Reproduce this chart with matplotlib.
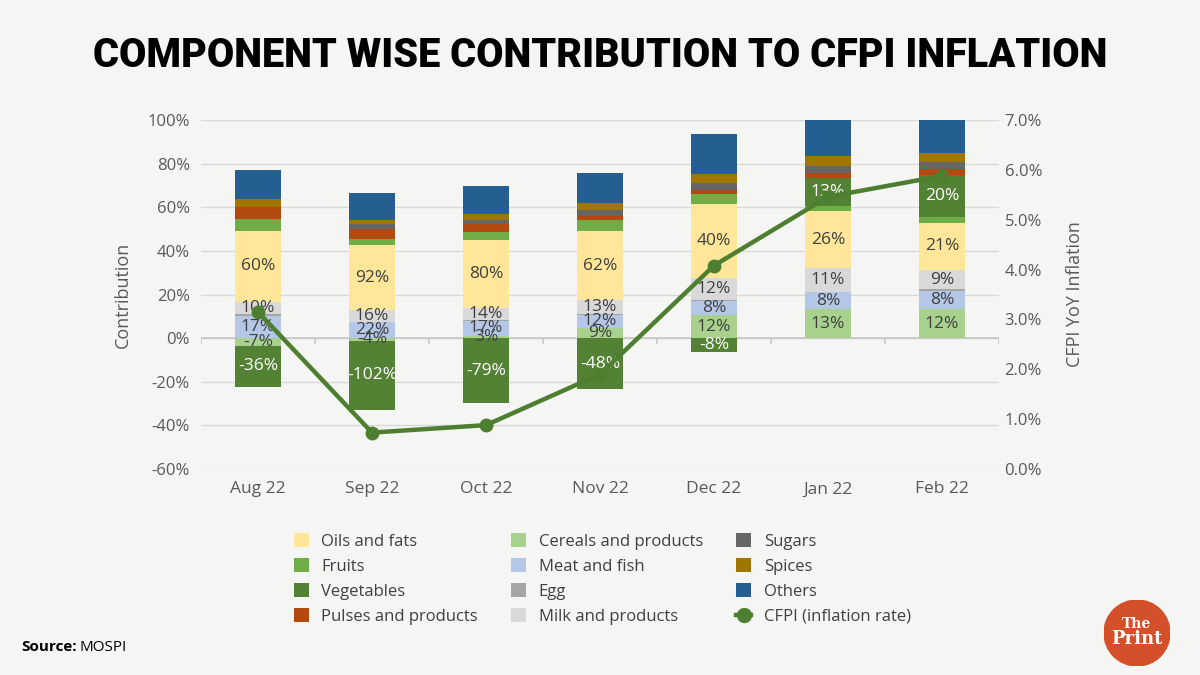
import numpy as np
import matplotlib
matplotlib.use('Agg')
import matplotlib.pyplot as plt
from matplotlib.patches import Patch, Circle
from matplotlib.lines import Line2D

plt.rcParams['font.family'] = ['Open Sans', 'DejaVu Sans']

months = ['Aug 22', 'Sep 22', 'Oct 22', 'Nov 22', 'Dec 22', 'Jan 22', 'Feb 22']

# segment heights as drawn (share of total, %)
cereals = [-3.5, -1.2, 1.2, 4.7, 10.6, 13.2, 13.2]
meat = [10.3, 7.2, 6.8, 5.9, 6.5, 7.8, 8.6]
egg = [0.6, 0.3, 0.3, 0.3, 0.3, 0.2, 0.5]
milk = [5.8, 5.3, 5.3, 6.5, 10.0, 10.8, 8.9]
oils = [32.4, 29.7, 31.4, 31.7, 34.1, 26.4, 21.7]
fruits = [5.3, 2.8, 3.8, 5.0, 4.4, 2.2, 2.5]
vegetables = [-18.8, -31.8, -29.7, -23.5, -6.3, 12.7, 19.4]
pulses = [5.6, 4.7, 3.4, 2.0, 2.0, 2.5, 2.6]
sugars = [0.0, 2.2, 1.9, 2.6, 3.1, 3.1, 3.2]
spices = [3.6, 1.9, 2.8, 3.1, 4.1, 4.6, 4.4]
others = [13.5, 12.3, 13.0, 14.0, 18.3, 16.5, 15.0]

# data labels printed on the bars
cereals_labels = ['-7%', '-4%', '3%', '9%', '12%', '13%', '12%']
meat_labels = ['17%', '22%', '17%', '12%', '8%', '8%', '8%']
milk_labels = ['10%', '16%', '14%', '13%', '12%', '11%', '9%']
oils_labels = ['60%', '92%', '80%', '62%', '40%', '26%', '21%']
veg_labels = ['-36%', '-102%', '-79%', '-48%', '-8%', '13%', '20%']

# CFPI YoY inflation (%)
cfpi = [3.15, 0.73, 0.88, 1.90, 4.08, 5.46, 5.88]

left_ticks = [100, 80, 60, 40, 20, 0, -20, -40, -60]
right_ticks = [0, 1, 2, 3, 4, 5, 6, 7]

BG = '#f5f5f3'
TICK_COLOR = '#595959'
LINE_GREEN = '#4e7f31'

# stacking order bottom -> top, legend names, colours
stack = [
    ('Cereals and products', cereals, '#a9d18e', cereals_labels, '#404040'),
    ('Meat and fish', meat, '#b4c7e7', meat_labels, '#404040'),
    ('Egg', egg, '#a5a5a5', None, None),
    ('Milk and products', milk, '#d9d9d9', milk_labels, '#404040'),
    ('Oils and fats', oils, '#ffe699', oils_labels, '#404040'),
    ('Fruits', fruits, '#70ad47', None, None),
    ('Vegetables', vegetables, '#548235', veg_labels, 'white'),
    ('Pulses and products', pulses, '#b4490f', None, None),
    ('Sugars', sugars, '#666666', None, None),
    ('Spices', spices, '#9e7600', None, None),
    ('Others', others, '#255e91', None, None),
]


def draw_bars(ax, x):
    pos_bottom = np.zeros(len(x))
    neg_bottom = np.zeros(len(x))
    for name, values, color, labels, label_color in stack:
        values = np.array(values)
        bottom = np.where(values >= 0, pos_bottom, neg_bottom)
        ax.bar(x, values, width=0.4, bottom=bottom, color=color, zorder=2)
        if labels is not None:
            for xi, b, v, lab in zip(x, bottom, values, labels):
                ax.text(xi, b + v / 2, lab, ha='center', va='center',
                        fontsize=12.5, color=label_color, zorder=3)
        pos_bottom = pos_bottom + np.where(values >= 0, values, 0)
        neg_bottom = neg_bottom + np.where(values < 0, values, 0)


fig = plt.figure(figsize=(12, 6.75), dpi=100, facecolor=BG)
ax = fig.add_axes([0.1675, 0.3052, 0.665, 0.517])
ax.set_facecolor(BG)

x = np.arange(len(months))
draw_bars(ax, x)

ax.set_xlim(-0.5, len(months) - 0.5)
ax.set_ylim(-60, 100)
ax.set_yticks(left_ticks)
ax.set_yticklabels([f'{t}%' for t in left_ticks])
ax.yaxis.grid(True, color='#d9d9d9', linewidth=1, zorder=0)
ax.set_axisbelow(True)
for s in ax.spines.values():
    s.set_visible(False)
ax.tick_params(axis='y', length=0, labelsize=12, labelcolor=TICK_COLOR, pad=8)

# category labels at the bottom, axis line at zero with boundary ticks
ax.set_xticks(x)
ax.set_xticklabels(months)
ax.tick_params(axis='x', length=0, labelsize=12.5, labelcolor=TICK_COLOR, pad=9)
ax.axhline(0, color='#c8c8c8', linewidth=1.2, zorder=1)
ax.vlines(np.arange(len(months) + 1) - 0.5, -2.8, 0, color='#c8c8c8', linewidth=1.2, zorder=1)
ax.set_ylabel('Contribution', fontsize=13, color=TICK_COLOR, labelpad=11)

ax2 = ax.twinx()
ax2.plot(x, cfpi, color=LINE_GREEN, linewidth=3.2, marker='o', markersize=9, zorder=5)
ax2.set_ylim(0, 7)
ax2.set_yticks(right_ticks)
ax2.set_yticklabels([f'{t:.1f}%' for t in right_ticks])
for s in ax2.spines.values():
    s.set_visible(False)
ax2.tick_params(axis='y', length=0, labelsize=12, labelcolor=TICK_COLOR, pad=4)
ax2.set_ylabel('CFPI YoY Inflation', fontsize=13, color=TICK_COLOR, labelpad=17)

# legend, column-major like the original
legend_order = ['Oils and fats', 'Fruits', 'Vegetables', 'Pulses and products',
                'Cereals and products', 'Meat and fish', 'Egg', 'Milk and products',
                'Sugars', 'Spices', 'Others']
colors = {name: color for name, _, color, _, _ in stack}
handles = [Patch(facecolor=colors[n], edgecolor='none') for n in legend_order]
handles.append(Line2D([0], [0], color=LINE_GREEN, linewidth=3.2, marker='o', markersize=10))
names = legend_order + ['CFPI (inflation rate)']
fig.legend(handles, names, ncol=3, loc='center', bbox_to_anchor=(0.502, 0.142),
           frameon=False, fontsize=12, labelcolor='#404040', handlelength=0.9,
           handleheight=0.9, handletextpad=0.75, columnspacing=2.0, labelspacing=0.5)

fig.text(0.5, 0.918, 'COMPONENT WISE CONTRIBUTION TO CFPI INFLATION', ha='center', va='center',
         fontsize=28.5, fontweight='black', family='Roboto', color='black')

fig.text(0.018, 0.041, 'Source:', fontsize=11, fontweight='bold', color='black', va='center')
fig.text(0.066, 0.041, 'MOSPI', fontsize=11, color='black', va='center')

# ThePrint badge
logo = fig.add_axes([1104 / 1200, 9 / 675, 66 / 1200, 66 / 675])
logo.set_xlim(-1, 1)
logo.set_ylim(-1, 1)
logo.set_aspect('equal')
logo.axis('off')
logo.add_patch(Circle((0, 0), 1, color='#d4502a'))
logo.text(0, 0.28, 'The', ha='center', va='center', color='white', fontsize=10,
          fontweight='bold', family='DejaVu Serif')
logo.text(0, -0.18, 'Print', ha='center', va='center', color='white', fontsize=13,
          fontweight='bold', family='DejaVu Serif')

fig.savefig('out.png', dpi=100, facecolor=BG)
